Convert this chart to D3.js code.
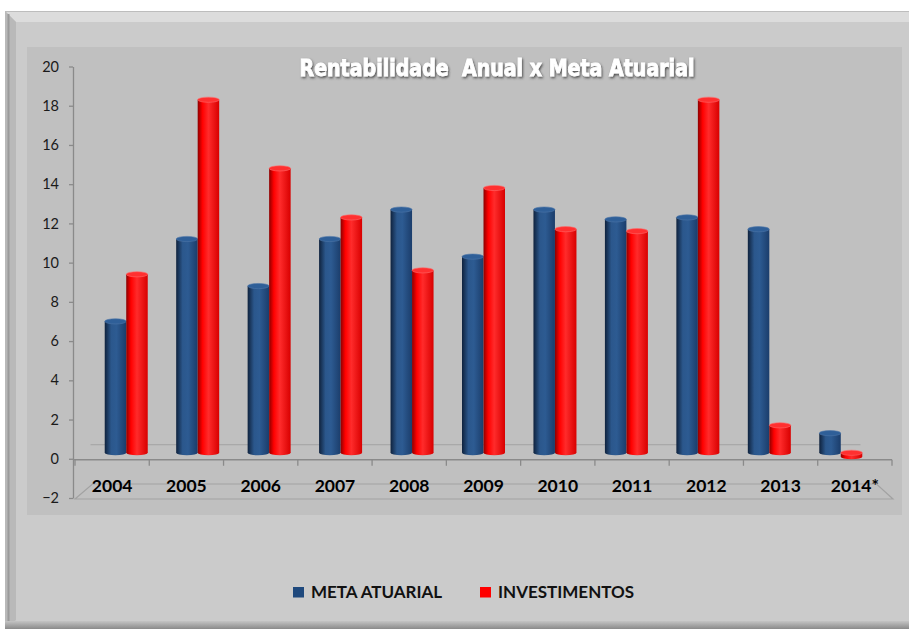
<!DOCTYPE html>
<html>
<head>
<meta charset="utf-8">
<script src="https://cdn.jsdelivr.net/npm/d3@7"></script>
<style>
  body { margin: 0; background: #ffffff; }
  svg { display: block; }
</style>
</head>
<body>
<div id="chart"></div>
<script>
// chart data
var years = ["2004", "2005", "2006", "2007", "2008", "2009", "2010", "2011", "2012", "2013", "2014*"];
var metaAtuarial = [6.7, 10.9, 8.5, 10.9, 12.4, 10.0, 12.4, 11.9, 12.0, 11.4, 1.0];
var investimentos = [9.1, 18.0, 14.5, 12.0, 9.3, 13.5, 11.4, 11.3, 18.0, 1.4, -0.2];
var seriesNames = ["META ATUARIAL", "INVESTIMENTOS"];
var yTicks = [-2, 0, 2, 4, 6, 8, 10, 12, 14, 16, 18, 20];

var width = 909,
    height = 629,
    depth = 6; // bars sit a bit behind the front plane

var svg = d3
    .select("#chart")
    .append("svg")
    .attr("width", width)
    .attr("height", height);

var defs = svg.append("defs");

// cylinder shading
function add_gradient(id, stops) {
    var g = defs
        .append("linearGradient")
        .attr("id", id)
        .attr("x1", "0%")
        .attr("x2", "100%")
        .attr("y1", "0%")
        .attr("y2", "0%");
    g.selectAll("stop")
        .data(stops)
        .enter()
        .append("stop")
        .attr("offset", (d) => d[0])
        .attr("stop-color", (d) => d[1]);
}
add_gradient("grad-blue", [["0%", "#0f223d"], ["30%", "#2b578c"], ["55%", "#2d5b92"], ["100%", "#1b3d6b"]]);
add_gradient("grad-red", [["0%", "#8c0000"], ["22%", "#ff0000"], ["50%", "#ff2b2b"], ["100%", "#d80000"]]);
add_gradient("grad-bottom", [["0%", "#c4c4c4"], ["100%", "#8a8a8a"]]);
defs.select("#grad-bottom").attr("x2", "0%").attr("y2", "100%");

var shadow = defs.append("filter").attr("id", "title-shadow");
shadow
    .append("feDropShadow")
    .attr("dx", 1)
    .attr("dy", 1.5)
    .attr("stdDeviation", 1.2)
    .attr("flood-color", "#333")
    .attr("flood-opacity", 0.8);

// chart area with bevelled border
svg.append("rect")
    .attr("x", 5).attr("y", 11)
    .attr("width", 904).attr("height", 618)
    .attr("fill", "#cbcbcb");
svg.append("polygon")
    .attr("points", "5,11 909,11 909,22 16,22")
    .attr("fill", "#dcdcdc");
svg.append("line")
    .attr("x1", 5).attr("x2", 909).attr("y1", 11.5).attr("y2", 11.5)
    .attr("stroke", "#bdbdbd");
svg.append("polygon")
    .attr("points", "5,11 16,22 16,620 5,629")
    .attr("fill", "#b9b9b9");
svg.append("line")
    .attr("x1", 8.5).attr("x2", 8.5).attr("y1", 14).attr("y2", 629)
    .attr("stroke", "#9a9a9a").attr("stroke-width", 2);
svg.append("rect")
    .attr("x", 5).attr("y", 621)
    .attr("width", 904).attr("height", 8)
    .attr("fill", "url(#grad-bottom)");

// plot area
svg.append("rect")
    .attr("x", 27).attr("y", 47)
    .attr("width", 875).attr("height", 468)
    .attr("fill", "#c0c0c0");

// scales
var y = d3.scaleLinear().domain([-2, 20]).range([498, 66.5]);
var xFront = d3.scaleBand().domain(years).range([75, 892]);
var xBack = d3.scaleBand().domain(years).range([90.5, 876.5]);
var xSeries = d3.scaleBand().domain(seriesNames).range([-21.5, 21.5]);
var color = d3.scaleOrdinal().domain(seriesNames).range(["#1f497d", "#ff0000"]);
var fills = d3.scaleOrdinal().domain(seriesNames).range(["url(#grad-blue)", "url(#grad-red)"]);
var tops = d3.scaleOrdinal().domain(seriesNames).range(["#2f5f98", "#ff3030"]);

var axisColor = "#8a8a8a";

// floor at -2 and back line at 0
var floor = [
    [xFront.range()[0], y(-2) + 1],
    [xFront.range()[1] + 1, y(-2) + 1],
    [xBack.range()[1], y(-2) - 14],
    [xBack.range()[0] + 2, y(-2) - 14]
];
svg.append("polygon")
    .attr("points", floor.map((p) => p.join(",")).join(" "))
    .attr("fill", "none")
    .attr("stroke", "#a2a2a2")
    .attr("stroke-width", 1.2);
svg.append("line")
    .attr("x1", xBack.range()[0])
    .attr("x2", xBack.range()[1] - 16)
    .attr("y1", y(0) - 14)
    .attr("y2", y(0) - 14)
    .attr("stroke", "#a2a2a2")
    .attr("stroke-width", 1.2);

// front category line at 0 with ticks between categories
var front = svg.append("g").attr("class", "front-axis");
front.append("line")
    .attr("x1", xFront.range()[0] - 2)
    .attr("x2", xFront.range()[1])
    .attr("y1", y(0) + 1)
    .attr("y2", y(0) + 1)
    .attr("stroke", axisColor)
    .attr("stroke-width", 1.3);
front.selectAll("line.tick")
    .data(years.concat(["end"]))
    .enter()
    .append("line")
    .attr("class", "tick")
    .attr("x1", (d) => (d === "end" ? xFront.range()[1] : xFront(d)))
    .attr("x2", (d) => (d === "end" ? xFront.range()[1] : xFront(d)))
    .attr("y1", y(0) + 1)
    .attr("y2", y(0) + 7)
    .attr("stroke", axisColor)
    .attr("stroke-width", 1.3);

// value axis
var yAxis = svg
    .append("g")
    .attr("class", "y-axis")
    .attr("transform", "translate(73,0)")
    .call(d3.axisLeft(y).tickValues(yTicks).tickSize(4).tickPadding(10).tickSizeOuter(0));
yAxis.select(".domain").attr("stroke", axisColor).attr("stroke-width", 1.3);
yAxis.selectAll(".tick line").attr("stroke", axisColor).attr("stroke-width", 1.3);
yAxis.selectAll(".tick text")
    .attr("fill", "#1a1a1a")
    .style("font-family", "Lato, 'Open Sans', sans-serif")
    .style("font-size", "14.5px");

// bars as cylinders
var rows = [];
years.forEach(function (yr, i) {
    rows.push({ year: yr, series: seriesNames[0], value: metaAtuarial[i] });
    rows.push({ year: yr, series: seriesNames[1], value: investimentos[i] });
});
var barW = xSeries.bandwidth();
var ry = 2.6;

var bars = svg
    .selectAll("g.bar")
    .data(rows)
    .enter()
    .append("g")
    .attr("class", "bar")
    .attr("transform", function (d) {
        var cx = xBack(d.year) + xBack.bandwidth() / 2 + xSeries(d.series);
        return "translate(" + cx + ",0)";
    });

function yTop(d) {
    return Math.min(y(d.value), y(0)) - depth;
}
function yBot(d) {
    return Math.max(y(d.value), y(0)) - depth;
}

bars.append("ellipse")
    .attr("cx", barW / 2)
    .attr("cy", yBot)
    .attr("rx", barW / 2)
    .attr("ry", ry)
    .attr("fill", (d) => fills(d.series));
bars.append("rect")
    .attr("x", 0)
    .attr("y", yTop)
    .attr("width", barW)
    .attr("height", (d) => yBot(d) - yTop(d))
    .attr("fill", (d) => fills(d.series));
bars.append("ellipse")
    .attr("cx", barW / 2)
    .attr("cy", yTop)
    .attr("rx", barW / 2)
    .attr("ry", ry)
    .attr("fill", (d) => tops(d.series))
    .attr("stroke", (d) => (d.series === seriesNames[0] ? "#4d75a8" : "#ff6a6a"))
    .attr("stroke-width", 0.6);

// category labels
svg.append("g")
    .selectAll("text")
    .data(years)
    .enter()
    .append("text")
    .attr("x", (d) => xFront(d) + xFront.bandwidth() / 2)
    .attr("y", 492)
    .attr("text-anchor", "middle")
    .style("font-family", "Lato, 'Open Sans', sans-serif")
    .style("font-weight", "bold")
    .style("font-size", "17.5px")
    .attr("fill", "#000")
    .text((d) => d);

// title
svg.append("text")
    .attr("x", 497)
    .attr("y", 76)
    .attr("text-anchor", "middle")
    .attr("textLength", 395)
    .attr("lengthAdjust", "spacingAndGlyphs")
    .attr("filter", "url(#title-shadow)")
    .style("white-space", "pre")
    .style("font-family", "'Liberation Sans Narrow', 'DejaVu Sans Condensed', sans-serif")
    .style("font-weight", "bold")
    .style("font-size", "23px")
    .attr("fill", "#ffffff")
    .attr("stroke", "#ffffff")
    .attr("stroke-width", 0.8)
    .text("Rentabilidade  Anual x Meta Atuarial");

// legend
var legendX = [293, 480];
var legend = svg
    .append("g")
    .attr("class", "legend")
    .selectAll("g")
    .data(seriesNames)
    .enter()
    .append("g")
    .attr("transform", (d, i) => "translate(" + legendX[i] + ",587)");
legend.append("rect")
    .attr("width", 11)
    .attr("height", 10.5)
    .attr("fill", (d) => color(d));
legend.append("text")
    .attr("x", 18)
    .attr("y", 11)
    .style("font-family", "Lato, 'Open Sans', sans-serif")
    .style("font-weight", "bold")
    .style("font-size", "17px")
    .attr("fill", "#111")
    .text((d) => d);
</script>
</body>
</html>
